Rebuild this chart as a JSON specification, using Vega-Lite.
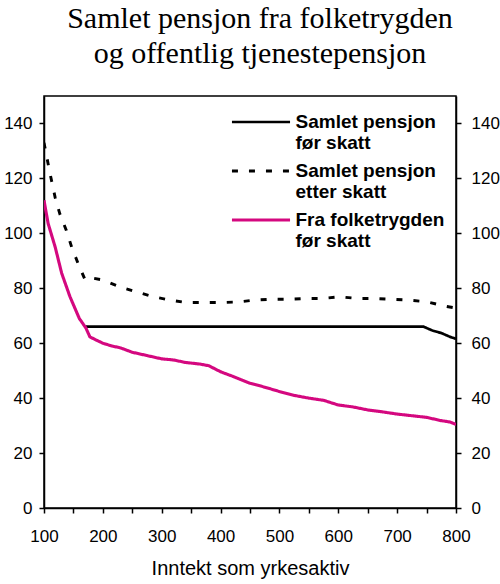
{
  "$schema": "https://vega.github.io/schema/vega-lite/v6.json",
  "width": 412,
  "height": 412,
  "autosize": "none",
  "padding": {"left": 44, "top": 96, "right": 44, "bottom": 76},
  "background": "white",
  "title": {
    "text": ["Samlet pensjon fra folketrygden", "og offentlig tjenestepensjon"],
    "font": "Liberation Serif",
    "fontSize": 30,
    "fontWeight": "normal",
    "lineHeight": 35,
    "color": "black",
    "anchor": "middle",
    "dx": 10,
    "offset": 27
  },
  "config": {
    "view": {"stroke": "black", "strokeWidth": 1.5},
    "axis": {
      "labelFont": "Liberation Sans",
      "labelFontSize": 17,
      "labelColor": "black",
      "titleFont": "Liberation Sans",
      "titleFontSize": 20,
      "titleFontWeight": "normal",
      "titleColor": "black",
      "domainColor": "black",
      "domainWidth": 1.5,
      "tickColor": "black",
      "tickWidth": 1.5,
      "tickSize": 5,
      "grid": false
    }
  },
  "data": {
    "values": [
      {"inntekt": 171, "pst": 66, "serie": "Samlet pensjon før skatt"},
      {"inntekt": 745, "pst": 66, "serie": "Samlet pensjon før skatt"},
      {"inntekt": 760, "pst": 64.6, "serie": "Samlet pensjon før skatt"},
      {"inntekt": 775, "pst": 63.7, "serie": "Samlet pensjon før skatt"},
      {"inntekt": 790, "pst": 62.3, "serie": "Samlet pensjon før skatt"},
      {"inntekt": 800, "pst": 61.6, "serie": "Samlet pensjon før skatt"},
      {"inntekt": 100, "pst": 133, "serie": "Samlet pensjon etter skatt"},
      {"inntekt": 110, "pst": 122, "serie": "Samlet pensjon etter skatt"},
      {"inntekt": 119, "pst": 113, "serie": "Samlet pensjon etter skatt"},
      {"inntekt": 127, "pst": 107, "serie": "Samlet pensjon etter skatt"},
      {"inntekt": 138, "pst": 101, "serie": "Samlet pensjon etter skatt"},
      {"inntekt": 147, "pst": 95, "serie": "Samlet pensjon etter skatt"},
      {"inntekt": 158, "pst": 89, "serie": "Samlet pensjon etter skatt"},
      {"inntekt": 170, "pst": 83, "serie": "Samlet pensjon etter skatt"},
      {"inntekt": 185, "pst": 83.6, "serie": "Samlet pensjon etter skatt"},
      {"inntekt": 200, "pst": 83, "serie": "Samlet pensjon etter skatt"},
      {"inntekt": 229, "pst": 80.5, "serie": "Samlet pensjon etter skatt"},
      {"inntekt": 257, "pst": 78.7, "serie": "Samlet pensjon etter skatt"},
      {"inntekt": 286, "pst": 76.9, "serie": "Samlet pensjon etter skatt"},
      {"inntekt": 314, "pst": 75.7, "serie": "Samlet pensjon etter skatt"},
      {"inntekt": 342, "pst": 74.8, "serie": "Samlet pensjon etter skatt"},
      {"inntekt": 370, "pst": 74.8, "serie": "Samlet pensjon etter skatt"},
      {"inntekt": 400, "pst": 74.8, "serie": "Samlet pensjon etter skatt"},
      {"inntekt": 430, "pst": 75, "serie": "Samlet pensjon etter skatt"},
      {"inntekt": 458, "pst": 75.7, "serie": "Samlet pensjon etter skatt"},
      {"inntekt": 487, "pst": 76, "serie": "Samlet pensjon etter skatt"},
      {"inntekt": 515, "pst": 76, "serie": "Samlet pensjon etter skatt"},
      {"inntekt": 546, "pst": 76.3, "serie": "Samlet pensjon etter skatt"},
      {"inntekt": 574, "pst": 76.3, "serie": "Samlet pensjon etter skatt"},
      {"inntekt": 603, "pst": 76.9, "serie": "Samlet pensjon etter skatt"},
      {"inntekt": 631, "pst": 76.3, "serie": "Samlet pensjon etter skatt"},
      {"inntekt": 659, "pst": 76.3, "serie": "Samlet pensjon etter skatt"},
      {"inntekt": 690, "pst": 76, "serie": "Samlet pensjon etter skatt"},
      {"inntekt": 719, "pst": 75.7, "serie": "Samlet pensjon etter skatt"},
      {"inntekt": 750, "pst": 75.1, "serie": "Samlet pensjon etter skatt"},
      {"inntekt": 781, "pst": 73.5, "serie": "Samlet pensjon etter skatt"},
      {"inntekt": 800, "pst": 72.8, "serie": "Samlet pensjon etter skatt"},
      {"inntekt": 100, "pst": 112, "serie": "Fra folketrygden før skatt"},
      {"inntekt": 107, "pst": 103.6, "serie": "Fra folketrygden før skatt"},
      {"inntekt": 119, "pst": 95, "serie": "Fra folketrygden før skatt"},
      {"inntekt": 130, "pst": 85.5, "serie": "Fra folketrygden før skatt"},
      {"inntekt": 144, "pst": 77, "serie": "Fra folketrygden før skatt"},
      {"inntekt": 160, "pst": 69, "serie": "Fra folketrygden før skatt"},
      {"inntekt": 171, "pst": 65.6, "serie": "Fra folketrygden før skatt"},
      {"inntekt": 178, "pst": 62.3, "serie": "Fra folketrygden før skatt"},
      {"inntekt": 190, "pst": 61, "serie": "Fra folketrygden før skatt"},
      {"inntekt": 200, "pst": 60, "serie": "Fra folketrygden før skatt"},
      {"inntekt": 215, "pst": 59, "serie": "Fra folketrygden før skatt"},
      {"inntekt": 230, "pst": 58.3, "serie": "Fra folketrygden før skatt"},
      {"inntekt": 250, "pst": 56.7, "serie": "Fra folketrygden før skatt"},
      {"inntekt": 275, "pst": 55.5, "serie": "Fra folketrygden før skatt"},
      {"inntekt": 300, "pst": 54.3, "serie": "Fra folketrygden før skatt"},
      {"inntekt": 320, "pst": 53.9, "serie": "Fra folketrygden før skatt"},
      {"inntekt": 340, "pst": 53, "serie": "Fra folketrygden før skatt"},
      {"inntekt": 365, "pst": 52.4, "serie": "Fra folketrygden før skatt"},
      {"inntekt": 380, "pst": 51.8, "serie": "Fra folketrygden før skatt"},
      {"inntekt": 400, "pst": 49.6, "serie": "Fra folketrygden før skatt"},
      {"inntekt": 420, "pst": 48, "serie": "Fra folketrygden før skatt"},
      {"inntekt": 450, "pst": 45.4, "serie": "Fra folketrygden før skatt"},
      {"inntekt": 475, "pst": 44, "serie": "Fra folketrygden før skatt"},
      {"inntekt": 500, "pst": 42.4, "serie": "Fra folketrygden før skatt"},
      {"inntekt": 525, "pst": 41, "serie": "Fra folketrygden før skatt"},
      {"inntekt": 550, "pst": 40, "serie": "Fra folketrygden før skatt"},
      {"inntekt": 575, "pst": 39.2, "serie": "Fra folketrygden før skatt"},
      {"inntekt": 600, "pst": 37.5, "serie": "Fra folketrygden før skatt"},
      {"inntekt": 625, "pst": 36.8, "serie": "Fra folketrygden før skatt"},
      {"inntekt": 650, "pst": 35.7, "serie": "Fra folketrygden før skatt"},
      {"inntekt": 675, "pst": 35, "serie": "Fra folketrygden før skatt"},
      {"inntekt": 700, "pst": 34.2, "serie": "Fra folketrygden før skatt"},
      {"inntekt": 725, "pst": 33.6, "serie": "Fra folketrygden før skatt"},
      {"inntekt": 750, "pst": 33, "serie": "Fra folketrygden før skatt"},
      {"inntekt": 775, "pst": 31.8, "serie": "Fra folketrygden før skatt"},
      {"inntekt": 790, "pst": 31.3, "serie": "Fra folketrygden før skatt"},
      {"inntekt": 800, "pst": 30.4, "serie": "Fra folketrygden før skatt"}
    ]
  },
  "encoding": {
    "x": {
      "field": "inntekt",
      "type": "quantitative",
      "scale": {"domain": [100, 800], "nice": false},
      "axis": {
        "title": "Inntekt som yrkesaktiv",
        "values": [100, 150, 200, 250, 300, 350, 400, 450, 500, 550, 600, 650, 700, 750, 800],
        "labelExpr": "datum.value % 100 === 0 ? datum.label : ''",
        "labelPadding": 15,
        "titlePadding": 14,
        "labelFlush": false,
        "labelOverlap": false
      }
    }
  },
  "layer": [
    {
      "mark": {"type": "line", "clip": true},
      "encoding": {
        "y": {
          "field": "pst",
          "type": "quantitative",
          "scale": {"domain": [0, 150], "nice": false},
          "axis": {
            "title": null,
            "orient": "left",
            "values": [0, 20, 40, 60, 80, 100, 120, 140],
            "labelPadding": 7
          }
        },
        "color": {
          "field": "serie",
          "type": "nominal",
          "scale": {
            "domain": ["Samlet pensjon før skatt", "Samlet pensjon etter skatt", "Fra folketrygden før skatt"],
            "range": ["black", "black", "#d4087f"]
          },
          "legend": {
            "title": null,
            "orient": "none",
            "legendX": 202,
            "legendY": 11,
            "padding": 0,
            "symbolType": "M-2.2,0H2.2",
            "symbolSize": 697,
            "symbolStrokeWidth": 2.8,
            "symbolFillColor": "transparent",
            "labelFont": "Liberation Sans",
            "labelFontSize": 19,
            "labelFontWeight": "bold",
            "labelColor": "black",
            "labelLimit": 300,
            "labelOffset": 19.5,
            "labelBaseline": "alphabetic",
            "labelLineHeight": 22,
            "rowPadding": 3,
            "labelExpr": "[join(slice(split(datum.label, ' '), 0, 2), ' '), join(slice(split(datum.label, ' '), 2), ' ')]",
            "encode": {"labels": {"update": {"dy": {"value": 6}}}}
          }
        },
        "strokeDash": {
          "field": "serie",
          "type": "nominal",
          "scale": {
            "domain": ["Samlet pensjon før skatt", "Samlet pensjon etter skatt", "Fra folketrygden før skatt"],
            "range": [[1, 0], [6, 11], [1, 0]]
          },
          "legend": null
        },
        "strokeWidth": {
          "field": "serie",
          "type": "nominal",
          "scale": {
            "domain": ["Samlet pensjon før skatt", "Samlet pensjon etter skatt", "Fra folketrygden før skatt"],
            "range": [2.7, 3.1, 2.7]
          },
          "legend": null
        }
      }
    },
    {
      "mark": {"type": "line", "opacity": 0},
      "encoding": {
        "detail": {"field": "serie"},
        "y": {
          "field": "pst",
          "type": "quantitative",
          "scale": {"domain": [0, 150], "nice": false},
          "axis": {
            "title": null,
            "orient": "right",
            "values": [0, 20, 40, 60, 80, 100, 120, 140],
            "labelPadding": 10
          }
        }
      }
    }
  ],
  "resolve": {"axis": {"y": "independent"}}
}
